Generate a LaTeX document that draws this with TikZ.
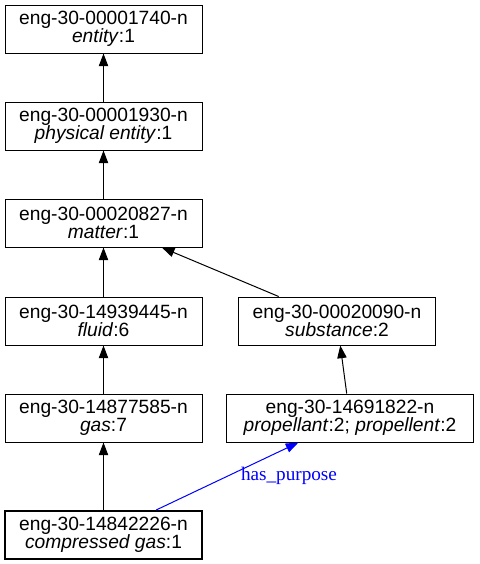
\documentclass[tikz,border=0pt]{standalone}
\usepackage{fontspec}
\setmainfont{Liberation Sans}
\newfontfamily\lblfont{Liberation Serif}
\usetikzlibrary{arrows.meta}
\newdimen\pxu \pxu=0.75pt
\begin{document}
\begin{tikzpicture}[x=0.75pt,y=-0.75pt,
  box/.style={draw=black, line width=0.75pt, rectangle, inner sep=0pt,
    minimum width=197\pxu, minimum height=48\pxu, align=center,
    font=\fontsize{14.4}{13.5}\selectfont},
  isa/.style={draw=black, line width=0.75pt, -{Triangle[length=9.5pt,width=7pt]}},
  rel/.style={draw=blue, line width=0.75pt, -{Triangle[length=9.5pt,width=7pt]}}]
\useasboundingbox (0,0) rectangle (479,564);
\fill[white] (0,0) rectangle (479,564);
\node[box] (entity) at (103.5,29) {eng-30-00001740-n\\\textit{entity}:1};
\node[box] (phys) at (103.5,126) {eng-30-00001930-n\\\textit{physical entity}:1};
\node[box] (matter) at (103.5,223) {eng-30-00020827-n\\\textit{matter}:1};
\node[box] (fluid) at (103.5,321) {eng-30-14939445-n\\\textit{fluid}:6};
\node[box] (gas) at (103.5,418) {eng-30-14877585-n\\\textit{gas}:7};
\node[box, line width=1.5pt] (comp) at (103.5,535) {eng-30-14842226-n\\\textit{compressed gas}:1};
\node[box] (subst) at (337,321) {eng-30-00020090-n\\\textit{substance}:2};
\node[box, minimum width=247\pxu] (prop) at (350,418) {eng-30-14691822-n\\\textit{propellant}:2; \textit{propellent}:2};
\draw[isa] (phys) -- (entity);
\draw[isa] (matter) -- (phys);
\draw[isa] (fluid) -- (matter);
\draw[isa] (gas) -- (fluid);
\draw[isa] (comp) -- (gas);
\draw[isa] (subst) -- (matter);
\draw[isa] (prop) -- (subst);
\draw[rel] (comp) -- (prop);
\node[text=blue, font=\lblfont\fontsize{14.4}{16}\selectfont, inner sep=0pt] (lbl) at (289,476) {has\_purpose};
\end{tikzpicture}
\end{document}
